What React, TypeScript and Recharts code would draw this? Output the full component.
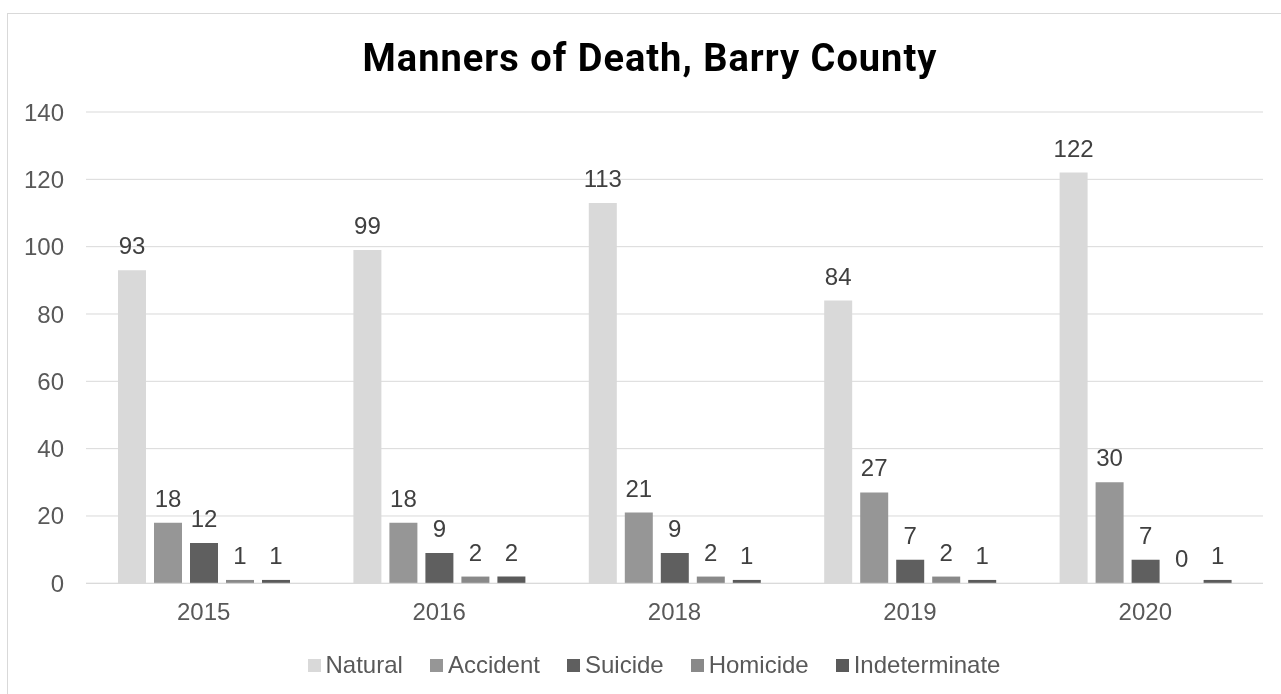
import React from 'react';
import { BarChart, Bar, XAxis, YAxis, CartesianGrid, Legend, LabelList } from 'recharts';

const years = ['2015', '2016', '2018', '2019', '2020'];
const natural = [93, 99, 113, 84, 122];
const accident = [18, 18, 21, 27, 30];
const suicide = [12, 9, 9, 7, 7];
const homicide = [1, 2, 2, 2, 0];
const indeterminate = [1, 2, 1, 1, 1];
const yTicks = [0, 20, 40, 60, 80, 100, 120, 140];

const seriesNames = ['Natural', 'Accident', 'Suicide', 'Homicide', 'Indeterminate'];
const seriesColors = ['#d9d9d9', '#969696', '#5f5f5f', '#898989', '#5a5a5a'];

const data = years.map((y, i) => ({
  year: y,
  Natural: natural[i],
  Accident: accident[i],
  Suicide: suicide[i],
  Homicide: homicide[i],
  Indeterminate: indeterminate[i],
}));

const FONT = '"Liberation Sans", Arial, sans-serif';

const LegendContent = () => (
  <div
    style={{
      display: 'flex',
      justifyContent: 'center',
      alignItems: 'center',
      height: 26,
      fontFamily: FONT,
      fontSize: 24,
      lineHeight: '26px',
      color: '#595959',
    }}
  >
    {seriesNames.map((n, i) => (
      <div key={n} style={{ display: 'flex', alignItems: 'center', marginRight: i < seriesNames.length - 1 ? 27 : 0 }}>
        <div style={{ width: 13, height: 13, background: seriesColors[i], marginRight: 5 }} />
        <span>{n}</span>
      </div>
    ))}
  </div>
);

export default function App() {
  return (
    <div>
      <div
        style={{
          position: 'fixed',
          left: 7,
          top: 13,
          width: 1400,
          height: 800,
          borderTop: '1px solid #d9d9d9',
          borderLeft: '1px solid #d9d9d9',
        }}
      />
      <div
        style={{
          position: 'fixed',
          left: 0,
          top: 39,
          width: 1300,
          textAlign: 'center',
          fontFamily: 'Roboto, sans-serif',
          fontWeight: 700,
          fontSize: 38,
          lineHeight: '38px',
          letterSpacing: 1,
          color: '#000',
        }}
      >
        Manners of Death, Barry County
      </div>
      <div style={{ position: 'fixed', left: 0, top: 0 }}>
        <BarChart
          width={1281}
          height={694}
          data={data}
          margin={{ top: 112, right: 18, left: 0, bottom: 44.7 }}
          barSize={28}
          barGap={8}
        >
          <CartesianGrid horizontal vertical={false} stroke="#d9d9d9" />
          <XAxis
            dataKey="year"
            height={40}
            tickLine={false}
            tickSize={0}
            tickMargin={20}
            axisLine={{ stroke: '#d9d9d9' }}
            tick={{ fill: '#595959', fontSize: 24, fontFamily: FONT }}
          />
          <YAxis
            width={86}
            domain={[0, 140]}
            ticks={yTicks}
            interval={0}
            axisLine={false}
            tickLine={false}
            tickSize={0}
            tickMargin={22}
            tick={{ fill: '#595959', fontSize: 24, fontFamily: FONT }}
          />
          <Legend
            verticalAlign="bottom"
            content={<LegendContent />}
            wrapperStyle={{ position: 'absolute', top: 652, left: 0, width: 1308, height: 26 }}
          />
          {seriesNames.map((n, i) => (
            <Bar key={n} dataKey={n} fill={seriesColors[i]} minPointSize={0.01} isAnimationActive={false}>
              <LabelList
                dataKey={n}
                position="top"
                offset={16}
                fill="#404040"
                fontSize={24}
                fontFamily={FONT}
              />
            </Bar>
          ))}
        </BarChart>
      </div>
    </div>
  );
}
